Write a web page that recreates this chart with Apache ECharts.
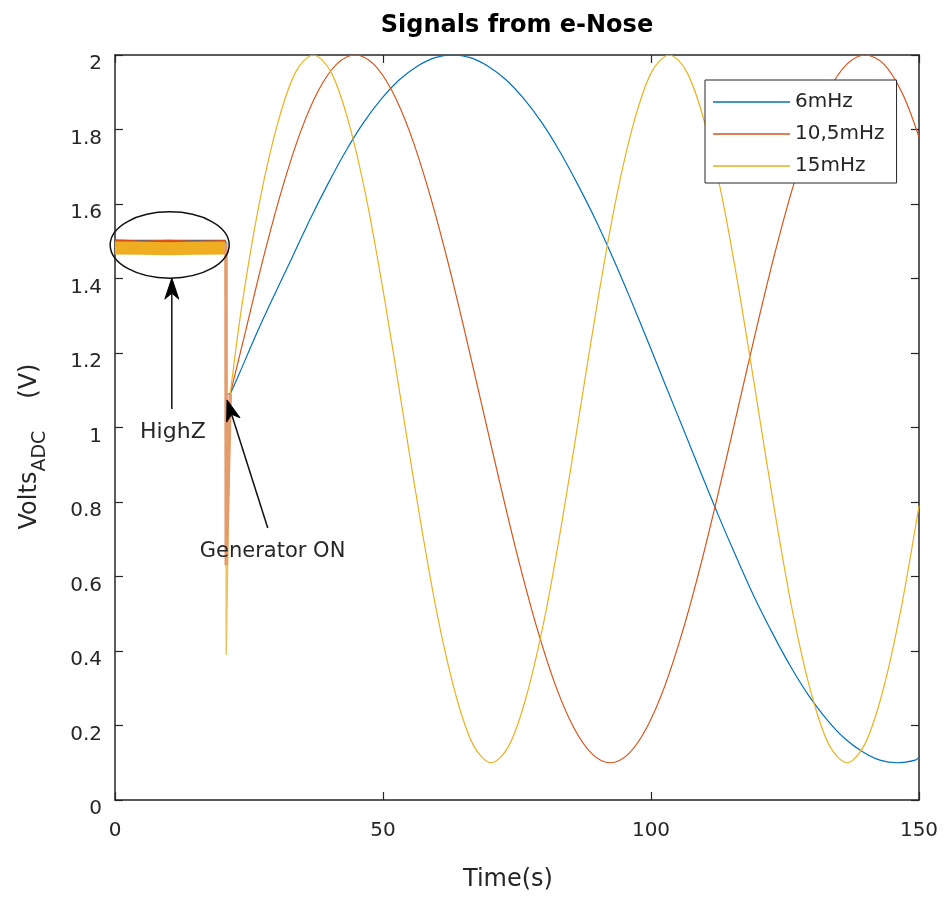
<!DOCTYPE html>
<html>
<head>
<meta charset="utf-8">
<script src="https://cdn.jsdelivr.net/npm/echarts@6/dist/echarts.min.js"></script>
<style>
html,body{margin:0;padding:0;background:#ffffff;}
#chart{width:949px;height:898px;}
</style>
</head>
<body>
<div id="chart"></div>
<script>
// ---------------- data ----------------
const seriesNames = ['6mHz', '10,5mHz', '15mHz'];
const xTickLabels = [0, 50, 100, 150];
const yTickLabels = [0, 0.2, 0.4, 0.6, 0.8, 1, 1.2, 1.4, 1.6, 1.8, 2];

// High-impedance part before the generator is switched on (noisy band)
const timeBand   = [0, 5, 10, 15, 20.7];
const bandBlue   = [1.500, 1.500, 1.500, 1.500, 1.500];
const bandOrange = [1.497, 1.494, 1.496, 1.494, 1.495];
const bandYellow = [1.482, 1.481, 1.480, 1.481, 1.482];

// Switch-on transient
const timeSpike   = [20.7, 20.75, 21.5];
const spikeBlue   = [1.500, 1.09, 1.09];
const spikeOrange = [1.495, 0.63, 1.09];
const spikeYellow = [1.482, 0.39, 1.09];

// Generator ON signals
const timeBlue = [21.5, 23.2, 26.5, 29.8, 33.1, 36.4, 39.8, 43.1, 46.4, 49.7, 53.0, 56.4, 59.7, 63.0, 66.3, 69.6,
                  73.0, 76.3, 79.6, 82.9, 86.2, 89.6, 92.9, 96.2, 99.5, 102.8, 106.2, 109.5, 112.8, 116.1, 119.4,
                  122.8, 126.1, 129.4, 132.7, 136.0, 139.4, 142.7, 146.0, 149.3, 150];
const valBlue  = [1.09, 1.145, 1.255, 1.358, 1.458, 1.559, 1.656, 1.743, 1.819, 1.882, 1.933, 1.970, 1.993, 2.000, 1.993, 1.970,
                  1.933, 1.882, 1.819, 1.743, 1.656, 1.559, 1.455, 1.344, 1.228, 1.110, 0.990, 0.872, 0.756, 0.646, 0.541,
                  0.444, 0.357, 0.281, 0.218, 0.167, 0.130, 0.107, 0.100, 0.107, 0.115];

const timeOrange = [21.5, 24.4, 27.8, 31.2, 34.6, 38.0, 41.4, 44.8, 48.2, 51.6, 55.0, 58.4, 61.8, 65.2, 68.6, 72.0,
                    75.4, 78.8, 82.2, 85.6, 89.0, 92.4, 95.8, 99.2, 102.6, 106.0, 109.4, 112.8, 116.2, 119.6, 123.0,
                    126.4, 129.8, 133.2, 136.6, 140.0, 143.4, 146.8, 150];
const valOrange  = [1.09, 1.261, 1.462, 1.642, 1.793, 1.906, 1.976, 2.000, 1.976, 1.906, 1.793, 1.642, 1.462, 1.261, 1.050, 0.839,
                    0.638, 0.458, 0.307, 0.194, 0.124, 0.100, 0.124, 0.194, 0.307, 0.458, 0.638, 0.839, 1.050, 1.261, 1.462,
                    1.642, 1.793, 1.906, 1.976, 2.000, 1.976, 1.900, 1.780];

const timeYellow = [21.5, 23.7, 27.0, 30.4, 33.7, 37.0, 40.3, 43.6, 47.0, 50.3, 53.6, 56.9, 60.2, 63.6, 66.9, 70.2,
                    73.5, 76.8, 80.2, 83.5, 86.8, 90.1, 93.4, 96.8, 100.1, 103.4, 106.7, 110.0, 113.4, 116.7, 120.0,
                    123.3, 126.6, 130.0, 133.3, 136.6, 139.9, 143.2, 146.6, 149.9, 150];
const valYellow  = [1.09, 1.330, 1.608, 1.819, 1.954, 2.000, 1.954, 1.819, 1.608, 1.344, 1.050, 0.756, 0.492, 0.281, 0.146, 0.100,
                    0.146, 0.281, 0.492, 0.756, 1.050, 1.344, 1.608, 1.819, 1.954, 2.000, 1.954, 1.819, 1.608, 1.344, 1.050,
                    0.756, 0.492, 0.281, 0.146, 0.100, 0.150, 0.290, 0.510, 0.780, 0.790];

// Annotations (data coordinates)
const ellipseBox   = [-0.9, 1.579, 21.3, 1.401];   // t-left, v-top, t-right, v-bottom
const highZArrow   = [[10.6, 1.05], [10.6, 1.401]]; // tail, tip
const highZLabel   = [10.8, 0.988];
const genArrow     = [[28.5, 0.73], [20.9, 1.074]];
const genLabel     = [29.4, 0.666];

// ---------------- styling ----------------
const FONT = 'DejaVu Sans';
const INK = '#262626';
const colors = ['#0072BD', '#D95319', '#EDB120'];
const G = {left: 115, right: 30, top: 55, bottom: 98};

function pairs(ts, vs) { return ts.map((t, i) => [t, vs[i]]); }

function lineSeries(name, ts, vs, color, width, smooth) {
  return {
    name: name, type: 'line', data: pairs(ts, vs), symbol: 'none', showSymbol: false,
    smooth: smooth, lineStyle: {color: color, width: width, cap: 'butt'}, itemStyle: {color: color},
    emphasis: {disabled: true}, silent: true, animation: false
  };
}

const series = [
  lineSeries('band-6', timeBand, bandBlue, colors[0], 3, false),
  lineSeries('band-10', timeBand, bandOrange, colors[1], 6, false),
  lineSeries('band-15', timeBand, bandYellow, '#EFAE22', 13, false),
  lineSeries(seriesNames[0], timeBlue, valBlue, colors[0], 1.2, 0.33),
  lineSeries(seriesNames[1], timeOrange, valOrange, colors[1], 1.2, 0.33),
  lineSeries(seriesNames[2], timeYellow, valYellow, colors[2], 1.2, 0.33),
  lineSeries('spike-6', timeSpike, spikeBlue, colors[0], 1.2, false),
  lineSeries('spike-15', timeSpike, spikeYellow, '#EDC35A', 1.5, false),
  lineSeries('spike-10', timeSpike, spikeOrange, '#E39C6C', 3.5, false)
];

const xMin = xTickLabels[0], xMax = xTickLabels[xTickLabels.length - 1], xStep = xTickLabels[1] - xTickLabels[0];
const yMin = yTickLabels[0], yMax = yTickLabels[yTickLabels.length - 1], yStep = 0.2;

function axisBase() {
  return {
    axisLine: {show: true, onZero: false, lineStyle: {color: INK, width: 1.5}},
    axisTick: {show: true, inside: true, length: 8, lineStyle: {color: INK, width: 1.2}},
    splitLine: {show: false}
  };
}

const chart = echarts.init(document.getElementById('chart'), null, {renderer: 'canvas'});

chart.setOption({
  animation: false,
  backgroundColor: '#ffffff',
  title: {
    text: 'Signals from e-Nose',
    left: (G.left + 949 - G.right) / 2, top: 14, textAlign: 'center', padding: 0,
    textStyle: {fontFamily: FONT, fontSize: 24, fontWeight: 'bold', color: '#000'}
  },
  grid: {left: G.left, right: G.right, top: G.top, bottom: G.bottom, containLabel: false, outerBoundsMode: 'none'},
  legend: {
    data: seriesNames,
    orient: 'vertical', left: 705, top: 80,
    padding: [12, 12, 7, 8],
    icon: 'rect',
    itemWidth: 77, itemHeight: 1.5, itemGap: 12,
    backgroundColor: '#ffffff', borderColor: INK, borderWidth: 1,
    textStyle: {fontFamily: FONT, fontSize: 20, color: INK, lineHeight: 20},
    selectedMode: false
  },
  xAxis: [
    Object.assign(axisBase(), {
      type: 'value', position: 'bottom', min: xMin, max: xMax, interval: xStep,
      name: 'Time(s)', nameLocation: 'middle', nameGap: 68,
      nameTextStyle: {fontFamily: FONT, fontSize: 24, color: INK, padding: [0, 18, 0, 0]},
      axisLabel: {fontFamily: FONT, fontSize: 20, color: INK, margin: 21}
    }),
    Object.assign(axisBase(), {
      type: 'value', position: 'top', min: xMin, max: xMax, interval: xStep,
      axisLabel: {show: false}
    })
  ],
  yAxis: [
    Object.assign(axisBase(), {
      type: 'value', position: 'left', min: yMin, max: yMax, interval: yStep,
      name: '{v|Volts}{s|ADC}{g|}{v|(V)}', nameLocation: 'middle', nameGap: 65, nameRotate: 90,
      nameTextStyle: {
        fontFamily: FONT, color: INK, padding: [0, 38, 0, 0],
        rich: {
          v: {fontFamily: FONT, fontSize: 24, color: INK, lineHeight: 40},
          s: {fontFamily: FONT, fontSize: 19, color: INK, lineHeight: 19, verticalAlign: 'bottom'},
          g: {width: 32, lineHeight: 40}
        }
      },
      axisLabel: {fontFamily: FONT, fontSize: 20, color: INK, margin: 13, verticalAlign: 'top', lineHeight: 18}
    }),
    Object.assign(axisBase(), {
      type: 'value', position: 'right', min: yMin, max: yMax, interval: yStep,
      axisLabel: {show: false}
    })
  ],
  series: series
});

// ---------------- annotations ----------------
function px(p) { return chart.convertToPixel({xAxisIndex: 0, yAxisIndex: 0}, p); }

function arrowGraphics(tailData, tipData) {
  const a = px(tailData), b = px(tipData);
  const dx = b[0] - a[0], dy = b[1] - a[1];
  const len = Math.sqrt(dx * dx + dy * dy);
  const ux = dx / len, uy = dy / len, nx = -uy, ny = ux;
  const L = 21, W = 7, N = 15;
  const base = [b[0] - ux * L, b[1] - uy * L];
  const notch = [b[0] - ux * N, b[1] - uy * N];
  return [
    {type: 'line', z: 100, shape: {x1: a[0], y1: a[1], x2: notch[0], y2: notch[1]},
     style: {stroke: '#111', lineWidth: 1.5}},
    {type: 'polygon', z: 101, shape: {points: [b, [base[0] + nx * W, base[1] + ny * W], notch, [base[0] - nx * W, base[1] - ny * W]]},
     style: {fill: '#000', stroke: '#000', lineWidth: 1}}
  ];
}

const e1 = px([ellipseBox[0], ellipseBox[1]]);
const e2 = px([ellipseBox[2], ellipseBox[3]]);
const hz = px(highZLabel), gl = px(genLabel);

const graphics = [
  {type: 'ellipse', z: 100,
   shape: {cx: (e1[0] + e2[0]) / 2, cy: (e1[1] + e2[1]) / 2, rx: Math.abs(e2[0] - e1[0]) / 2, ry: Math.abs(e2[1] - e1[1]) / 2},
   style: {fill: 'none', stroke: '#111', lineWidth: 1.5}},
  {type: 'text', z: 102, x: hz[0], y: hz[1],
   style: {text: 'HighZ', font: '22px "DejaVu Sans"', fill: INK, align: 'center', verticalAlign: 'middle', textAlign: 'center', textVerticalAlign: 'middle'}},
  {type: 'text', z: 102, x: gl[0], y: gl[1],
   style: {text: 'Generator ON', font: '21px "DejaVu Sans"', fill: INK, align: 'center', verticalAlign: 'middle', textAlign: 'center', textVerticalAlign: 'middle'}}
].concat(arrowGraphics(highZArrow[0], highZArrow[1]), arrowGraphics(genArrow[0], genArrow[1]));

chart.setOption({graphic: graphics});
</script>
</body>
</html>
